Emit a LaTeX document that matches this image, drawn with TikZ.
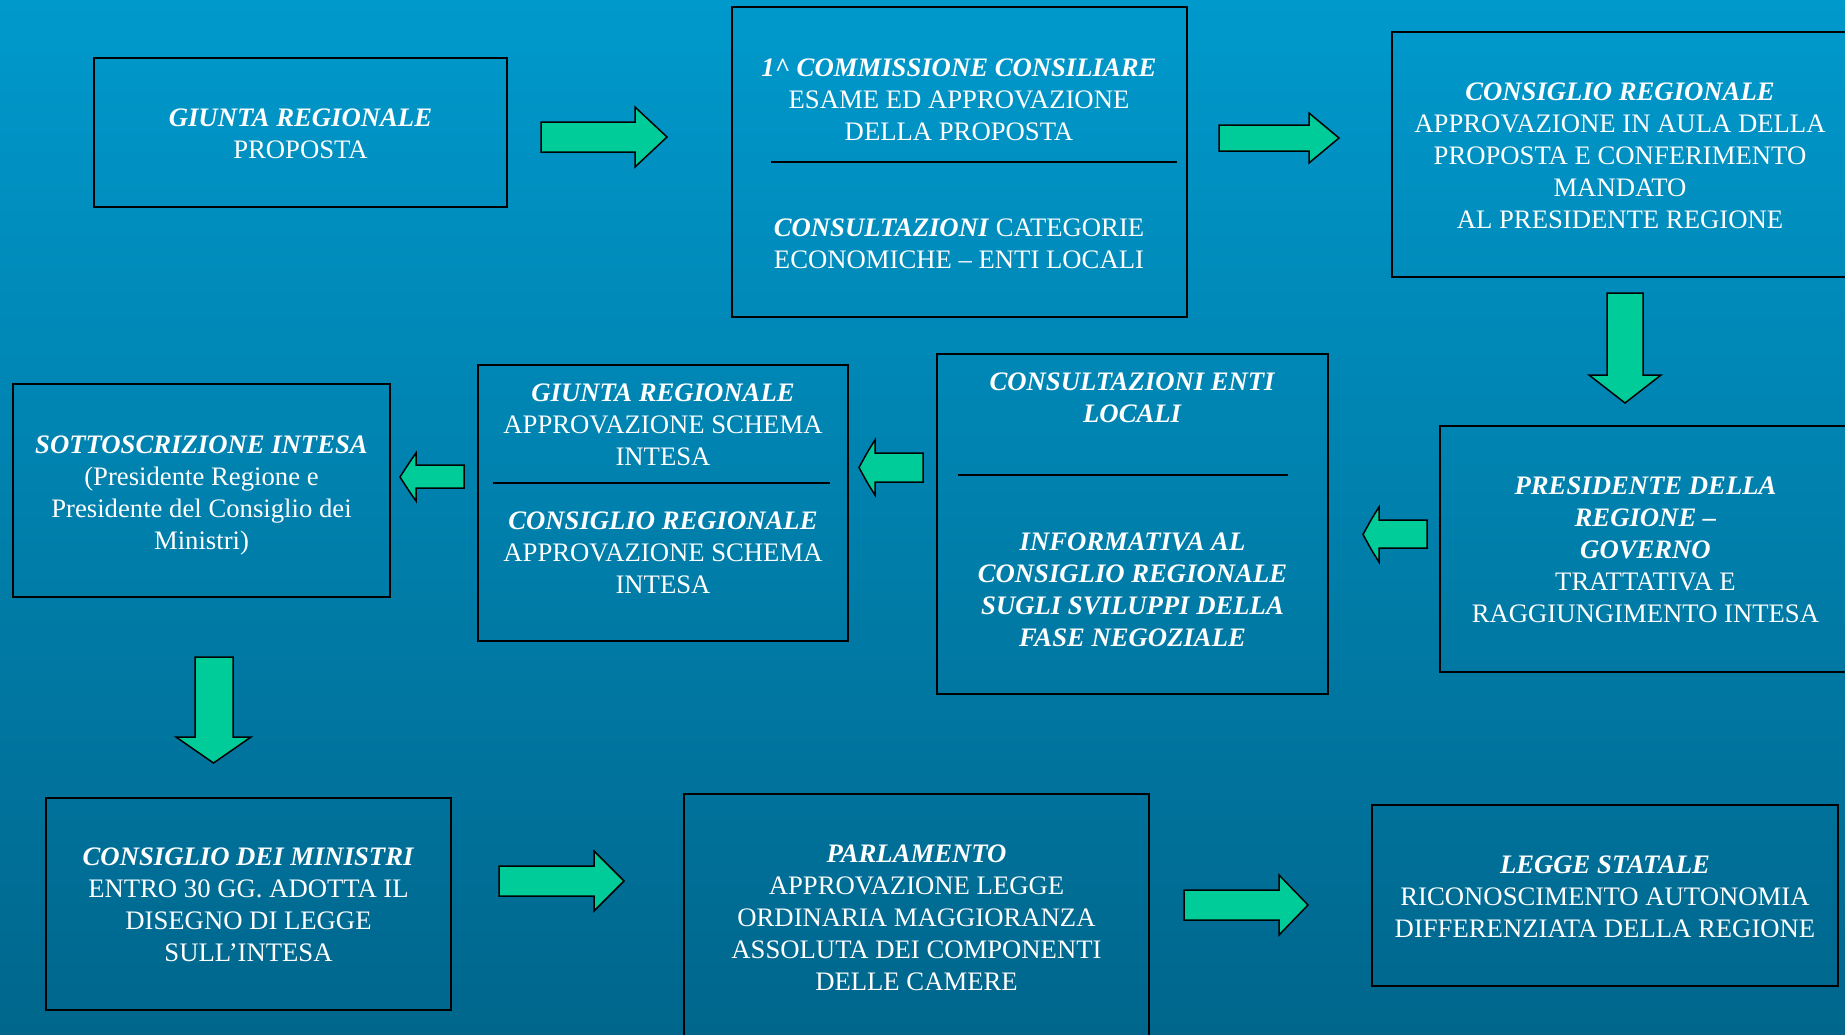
\documentclass[tikz,border=0pt]{standalone}
\usepackage{fontspec}
\setmainfont{Liberation Serif}
\definecolor{bgtop}{RGB}{0,153,204}
\definecolor{bgbot}{RGB}{0,102,140}
\definecolor{arrowfill}{RGB}{0,204,153}
\tikzset{
  box/.style={draw=black, line width=2pt, rectangle, inner sep=0pt, outer sep=0pt},
  boxtext/.style={text=white, align=center, font=\fontsize{26.7}{32}\selectfont, inner sep=0pt},
  divider/.style={draw=black, line width=2pt},
  blockarrow/.style={draw=black, line width=1.5pt, fill=arrowfill, line join=miter},
}
\newcommand\hd[1]{\textbf{\textit{#1}}}
\begin{document}
\begin{tikzpicture}[x=1pt,y=-1pt]
\useasboundingbox (0,0) rectangle (1845,1034);
\clip (0,0) rectangle (1845,1034);
\shade[top color=bgtop, bottom color=bgbot] (0,0) rectangle (1845,1034);

% boxes
\node[box, minimum width=413, minimum height=149] (A) at (300.5,132.5) {};
\node[box, minimum width=455, minimum height=310] (B) at (959.5,162) {};
\node[box, minimum width=456, minimum height=245] (C) at (1620,154.5) {};
\node[box, minimum width=411, minimum height=246] (D) at (1645.5,549) {};
\node[box, minimum width=391, minimum height=340] (E) at (1132.5,524) {};
\node[box, minimum width=370, minimum height=276] (F) at (663,503) {};
\node[box, minimum width=377, minimum height=213] (G) at (201.5,490.5) {};
\node[box, minimum width=405, minimum height=212] (H) at (248.5,904) {};
\node[box, minimum width=465, minimum height=246] (I) at (916.5,917) {};
\node[box, minimum width=466, minimum height=181] (J) at (1605,895.5) {};

% dividers
\draw[divider] (771,162) -- (1177,162);
\draw[divider] (958,475) -- (1288,475);
\draw[divider] (493,483) -- (830,483);

% texts
\node[boxtext] (tA) at (300.5,134) {\hd{GIUNTA REGIONALE}\\PROPOSTA};
\node[boxtext] (tB1) at (959,100) {\hd{1\textasciicircum{} COMMISSIONE CONSILIARE}\\ESAME ED APPROVAZIONE\\DELLA PROPOSTA};
\node[boxtext] (tB2) at (959,244) {\hd{CONSULTAZIONI} CATEGORIE\\ECONOMICHE – ENTI LOCALI};
\node[boxtext] (tC) at (1620,155.5) {\hd{CONSIGLIO REGIONALE}\\APPROVAZIONE IN AULA DELLA\\PROPOSTA E CONFERIMENTO\\MANDATO\\AL PRESIDENTE REGIONE};
\node[boxtext] (tD) at (1645.5,550) {\hd{PRESIDENTE DELLA}\\\hd{REGIONE –}\\\hd{GOVERNO}\\TRATTATIVA E\\RAGGIUNGIMENTO INTESA};
\node[boxtext] (tE1) at (1132.5,398) {\hd{CONSULTAZIONI ENTI}\\\hd{LOCALI}};
\node[boxtext] (tE2) at (1132.5,590) {\hd{INFORMATIVA AL}\\\hd{CONSIGLIO REGIONALE}\\\hd{SUGLI SVILUPPI DELLA}\\\hd{FASE NEGOZIALE}};
\node[boxtext] (tF1) at (663,425) {\hd{GIUNTA REGIONALE}\\APPROVAZIONE SCHEMA\\INTESA};
\node[boxtext] (tF2) at (663,553) {\hd{CONSIGLIO REGIONALE}\\APPROVAZIONE SCHEMA\\INTESA};
\node[boxtext] (tG) at (201.5,495) {\hd{SOTTOSCRIZIONE INTESA}\\(Presidente Regione e\\Presidente del Consiglio dei\\Ministri)};
\node[boxtext] (tH) at (248.5,905) {\hd{CONSIGLIO DEI MINISTRI}\\ENTRO 30 GG. ADOTTA IL\\DISEGNO DI LEGGE\\SULL’INTESA};
\node[boxtext] (tI) at (916.5,917.7) {\hd{PARLAMENTO}\\APPROVAZIONE LEGGE\\ORDINARIA MAGGIORANZA\\ASSOLUTA DEI COMPONENTI\\DELLE CAMERE};
\node[boxtext] (tJ) at (1605,896.5) {\hd{LEGGE STATALE}\\RICONOSCIMENTO AUTONOMIA\\DIFFERENZIATA DELLA REGIONE};

% block arrows
\draw[blockarrow] (541,122) -- (635,122) -- (635,107) -- (667,137) -- (635,167) -- (635,152) -- (541,152) -- cycle;
\draw[blockarrow] (1219,125) -- (1309,125) -- (1309,113) -- (1339,138) -- (1309,163) -- (1309,151) -- (1219,151) -- cycle;
\draw[blockarrow] (1607,293) -- (1643,293) -- (1643,375) -- (1661,375) -- (1625,403) -- (1589,375) -- (1607,375) -- cycle;
\draw[blockarrow] (1427,520) -- (1379,520) -- (1379,507) .. controls (1372,518) .. (1363,534.5) .. controls (1372,551) .. (1379,562) -- (1379,548) -- (1427,548) -- cycle;
\draw[blockarrow] (923,453) -- (875,453) -- (875,440) .. controls (868,451) .. (859,467.5) .. controls (868,484) .. (875,495) -- (875,482) -- (923,482) -- cycle;
\draw[blockarrow] (464,465) -- (416,465) -- (416,453) .. controls (409,463) .. (400,477) .. controls (409,491) .. (416,501) -- (416,488) -- (464,488) -- cycle;
\draw[blockarrow] (195,657) -- (233,657) -- (233,737) -- (251,737) -- (213.5,763) -- (176,737) -- (195,737) -- cycle;
\draw[blockarrow] (499,866) -- (594,866) -- (594,851) -- (624,881) -- (594,911) -- (594,896) -- (499,896) -- cycle;
\draw[blockarrow] (1184,890) -- (1279,890) -- (1279,875) -- (1308,905) -- (1279,935) -- (1279,920) -- (1184,920) -- cycle;
\end{tikzpicture}
\end{document}
